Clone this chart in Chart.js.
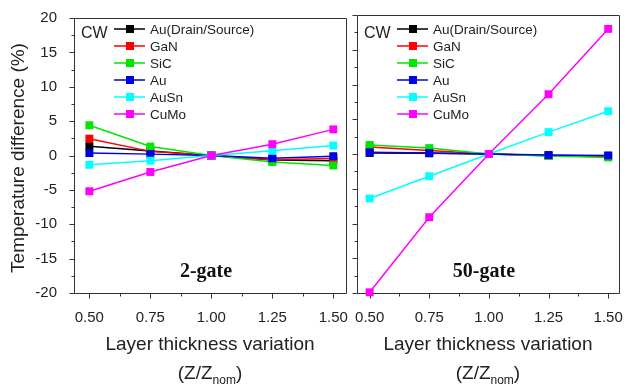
<!DOCTYPE html>
<html>
<head>
<meta charset="utf-8">
<script src="https://cdn.jsdelivr.net/npm/chart.js@4"></script>
<style>
  body { margin: 0; background: #fff; }
  #wrap { position: relative; width: 631px; height: 387px; }
  canvas { position: absolute; left: 0; top: 0; }
</style>
</head>
<body>
<div id="wrap">
  <canvas id="panel2" width="631" height="387"></canvas>
  <canvas id="panel50" width="631" height="387"></canvas>
</div>
<script>
const xValues = [0.5, 0.75, 1.0, 1.25, 1.5];
const xTicks = [0.5, 0.75, 1.0, 1.25, 1.5];
const xMinorTicks = [0.625, 0.875, 1.125, 1.375];
const yTicks = [-20, -15, -10, -5, 0, 5, 10, 15, 20];
const yMinorTicks = [-17.5, -12.5, -7.5, -2.5, 2.5, 7.5, 12.5, 17.5];

const seriesNames = ["Au(Drain/Source)", "GaN", "SiC", "Au", "AuSn", "CuMo"];
const seriesColors = ["#000000", "#ff0000", "#00e600", "#0000e6", "#00ffff", "#ff00ff"];

// 2-gate
const auDS2 = [1.35, 0.65, 0, -0.65, -0.75];
const gan2 = [2.45, 0.6, 0, -0.6, -0.45];
const sic2 = [4.4, 1.3, 0, -0.95, -1.45];
const au2 = [0.35, 0.2, 0, -0.4, -0.1];
const auSn2 = [-1.35, -0.75, 0, 0.7, 1.45];
const cuMo2 = [-5.2, -2.4, 0, 1.65, 3.8];

// 50-gate
const auDS50 = [0.15, 0.1, 0, -0.2, -0.3];
const gan50 = [1.0, 0.5, 0, -0.25, -0.35];
const sic50 = [1.3, 0.85, 0, -0.3, -0.5];
const au50 = [0.25, 0.15, 0, -0.15, -0.2];
const auSn50 = [-6.4, -3.2, 0, 3.15, 6.15];
const cuMo50 = [-19.9, -9.1, 0, 8.6, 18.0];

const sansFont = "'Liberation Sans', Arial, sans-serif";
const serifFont = "'Liberation Serif', 'Times New Roman', serif";
const inkColor = "#222";

const panelDecor = {
    id: "panelDecor",
    beforeDatasetsDraw(chart, args, opts) {
        const ctx = chart.ctx;
        const a = chart.chartArea;
        const xs = chart.scales.x;
        const ys = chart.scales.y;
        const l = Math.round(a.left) + 0.5, r = Math.round(a.right) + 0.5;
        const t = Math.round(a.top) + 0.5, b = Math.round(a.bottom) + 0.5;
        ctx.save();
        ctx.strokeStyle = "#333";
        ctx.lineWidth = 1;
        ctx.beginPath();
        ctx.moveTo(l, t); ctx.lineTo(r, t); ctx.lineTo(r, b); ctx.lineTo(l, b); ctx.closePath();
        xTicks.forEach((v) => {
            const px = Math.round(xs.getPixelForValue(v)) + 0.5;
            ctx.moveTo(px, b); ctx.lineTo(px, b + 5);
        });
        xMinorTicks.forEach((v) => {
            const px = Math.round(xs.getPixelForValue(v)) + 0.5;
            ctx.moveTo(px, b); ctx.lineTo(px, b + 3);
        });
        yTicks.forEach((v) => {
            const py = Math.round(ys.getPixelForValue(v)) + 0.5;
            ctx.moveTo(l, py); ctx.lineTo(l - 5, py);
        });
        yMinorTicks.forEach((v) => {
            const py = Math.round(ys.getPixelForValue(v)) + 0.5;
            ctx.moveTo(l, py); ctx.lineTo(l - 3, py);
        });
        ctx.stroke();
        ctx.restore();
    },
    afterDraw(chart, args, opts) {
        const ctx = chart.ctx;
        const a = chart.chartArea;
        const cx = (a.left + a.right) / 2;
        ctx.save();
        ctx.fillStyle = inkColor;

        // legend with CW tag
        ctx.font = "16px " + sansFont;
        ctx.textBaseline = "middle";
        ctx.textAlign = "left";
        ctx.fillText("CW", a.left + 7, 34);
        ctx.font = "13.5px " + sansFont;
        seriesNames.forEach((name, i) => {
            const y = 29 + i * 17;
            ctx.strokeStyle = seriesColors[i];
            ctx.lineWidth = 1.5;
            ctx.beginPath();
            ctx.moveTo(a.left + 40, y); ctx.lineTo(a.left + 71, y);
            ctx.stroke();
            ctx.fillStyle = seriesColors[i];
            ctx.fillRect(a.left + 52, y - 4, 8, 8);
            ctx.fillStyle = inkColor;
            ctx.fillText(name, a.left + 76, y + 1);
        });

        // panel label
        ctx.font = "bold 20px " + serifFont;
        ctx.textAlign = "center";
        ctx.fillStyle = "#111";
        ctx.fillText(opts.label, cx - 4, 272);

        // x axis title
        ctx.fillStyle = inkColor;
        ctx.font = "19px " + sansFont;
        ctx.fillText("Layer thickness variation", cx, 345);
        const mainFont = "19px " + sansFont;
        const subFont = "12px " + sansFont;
        ctx.font = mainFont;
        const w1 = ctx.measureText("(Z/Z").width;
        const w3 = ctx.measureText(")").width;
        ctx.font = subFont;
        const w2 = ctx.measureText("nom").width;
        let x0 = cx - (w1 + w2 + w3) / 2;
        ctx.textAlign = "left";
        ctx.font = mainFont;
        ctx.fillText("(Z/Z", x0, 374);
        ctx.font = subFont;
        ctx.fillText("nom", x0 + w1, 381);
        ctx.font = mainFont;
        ctx.fillText(")", x0 + w1 + w2, 374);

        // y axis title
        if (opts.yTitle) {
            ctx.translate(19, 158);
            ctx.rotate(-Math.PI / 2);
            ctx.textAlign = "center";
            ctx.font = "19px " + sansFont;
            ctx.fillText("Temperature difference (%)", 0, 0);
        }
        ctx.restore();
    },
};

function buildPanel(canvasId, seriesValues, label, padding, xMin, xMax, showY) {
    const datasets = seriesValues.map((vals, i) => ({
        label: seriesNames[i],
        data: xValues.map((x, j) => ({ x: x, y: vals[j] })),
        borderColor: seriesColors[i],
        backgroundColor: seriesColors[i],
        borderWidth: 1.5,
        pointStyle: "rect",
        pointRadius: 5.6,
        pointBorderWidth: 0,
        order: seriesNames.length - 1 - i,
        clip: false,
    }));

    return new Chart(document.getElementById(canvasId), {
        type: "line",
        data: { datasets: datasets },
        options: {
            responsive: false,
            animation: false,
            layout: { padding: padding },
            plugins: {
                legend: { display: false },
                tooltip: { enabled: false },
                panelDecor: { label: label, yTitle: showY },
            },
            scales: {
                x: {
                    type: "linear",
                    min: xMin,
                    max: xMax,
                    grid: { display: false },
                    border: { display: false },
                    afterBuildTicks: (s) => { s.ticks = xTicks.map((v) => ({ value: v })); },
                    afterFit: (s) => { s.height = 94; },
                    ticks: {
                        callback: (v) => Number(v).toFixed(2),
                        font: { family: sansFont, size: 15 },
                        color: inkColor,
                        padding: 8,
                        maxRotation: 0,
                    },
                },
                y: {
                    min: -20,
                    max: 20,
                    grid: { display: false },
                    border: { display: false },
                    afterBuildTicks: (s) => { s.ticks = yTicks.map((v) => ({ value: v })); },
                    afterFit: (s) => { s.width = showY ? 74 : 0; },
                    ticks: {
                        display: showY,
                        font: { family: sansFont, size: 15 },
                        color: inkColor,
                        padding: 9,
                    },
                },
            },
        },
        plugins: [panelDecor],
    });
}

buildPanel("panel2", [auDS2, gan2, sic2, au2, auSn2, cuMo2], "2-gate",
    { left: 0, right: 285, top: 15, bottom: 0 }, 0.437, 1.552, true);
buildPanel("panel50", [auDS50, gan50, sic50, au50, auSn50, cuMo50], "50-gate",
    { left: 357, right: 3, top: 15, bottom: 0 }, 0.447, 1.545, false);
</script>
</body>
</html>
